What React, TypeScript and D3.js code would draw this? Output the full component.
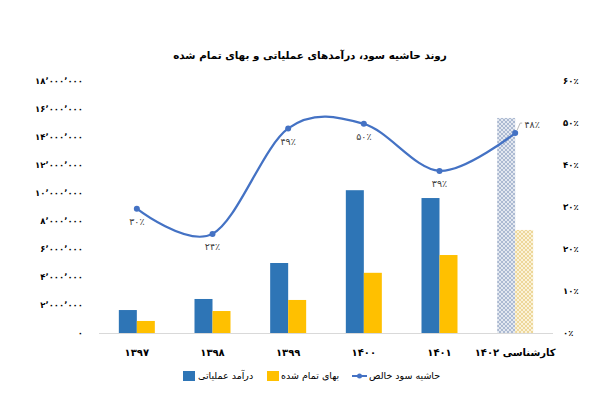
import * as d3 from 'd3'
import * as React from 'react'

//------------------------------data------------------------------
const categories = ['۱۳۹۷', '۱۳۹۸', '۱۳۹۹', '۱۴۰۰', '۱۴۰۱', 'کارشناسی ۱۴۰۲']
const revenue = [1640000, 2430000, 5000000, 10200000, 9640000, 15360000]
const cost = [860000, 1570000, 2360000, 4300000, 5570000, 7360000]
const margin = [29.6, 23.6, 48.7, 49.8, 38.6, 47.6]
const leftTicks = [0, 2000000, 4000000, 6000000, 8000000, 10000000, 12000000, 14000000, 16000000, 18000000]
const rightTicks = [0, 10, 20, 30, 40, 50, 60]
const seriesNames = ['درآمد عملیاتی', 'بهای تمام شده', 'حاشیه سود خالص']
const title = 'روند حاشیه سود، درآمدهای عملیاتی و بهای تمام شده'

const WIDTH = 611
const HEIGHT = 411
const FONT = '"DejaVu Sans", sans-serif'
const BLUE = '#2E75B6'
const YELLOW = '#FFC000'
const LINE = '#4472C4'

const faDigits = '۰۱۲۳۴۵۶۷۸۹'
const toFa = (s: string) => s.replace(/[0-9]/g, d => faDigits[+d]).replace(/,/g, '٬')

//------------------------------draw------------------------------
const drawChart = (svgRef: React.RefObject<SVGSVGElement | null>) => {
  const svg = d3.select(svgRef.current)
  svg.selectAll('*').remove()
  svg.attr('width', WIDTH).attr('height', HEIGHT)

  svg.append('rect').attr('width', WIDTH).attr('height', HEIGHT).attr('fill', '#fff')

  // hatch patterns for the forecast year
  const defs = svg.append('defs')
  const hatch = (id: string, bg: string, fg: string) => {
    const p = defs
      .append('pattern')
      .attr('id', id)
      .attr('patternUnits', 'userSpaceOnUse')
      .attr('width', 4)
      .attr('height', 4)
    p.append('rect').attr('width', 4).attr('height', 4).attr('fill', bg)
    p.append('path')
      .attr('d', 'M0,4 L4,0 M-1,1 L1,-1 M3,5 L5,3 M0,0 L4,4 M-1,3 L1,5 M3,-1 L5,1')
      .attr('stroke', fg)
      .attr('stroke-width', 0.7)
  }
  hatch('hatch-blue', '#E3E8F0', '#93A6C6')
  hatch('hatch-yellow', '#FBF2D8', '#E6CC80')

  const x0 = d3.scaleBand<string>().domain(categories).range([99, 553]).padding(0)
  const yL = d3.scaleLinear().domain([0, 18000000]).range([333, 81])
  const yR = d3.scaleLinear().domain([0, 60]).range([333, 81])
  const center = (c: string) => (x0(c) ?? 0) + x0.bandwidth() / 2

  // title
  svg
    .append('text')
    .attr('x', 310)
    .attr('y', 59)
    .attr('text-anchor', 'middle')
    .attr('direction', 'rtl')
    .style('font', `bold 10.4px ${FONT}`)
    .attr('fill', '#000')
    .text(title)

  // left axis labels
  svg
    .append('g')
    .selectAll('text')
    .data(leftTicks)
    .join('text')
    .attr('x', 83)
    .attr('y', d => yL(d))
    .attr('dy', '0.35em')
    .attr('text-anchor', 'end')
    .style('font', `bold 8.5px ${FONT}`)
    .attr('fill', '#000')
    .text(d => toFa(d3.format(',')(d)))

  // right axis labels
  svg
    .append('g')
    .selectAll('text')
    .data(rightTicks)
    .join('text')
    .attr('x', 563)
    .attr('y', d => yR(d))
    .attr('dy', '0.35em')
    .attr('text-anchor', 'start')
    .style('font', `bold 8.5px ${FONT}`)
    .attr('fill', '#000')
    .text(d => toFa(String(d)) + '٪')

  // bars
  const last = categories.length - 1
  categories.forEach((c, i) => {
    const x1 = d3
      .scaleBand<string>()
      .domain(['rev', 'cost'])
      .range([center(c) - 18, center(c) + 18])
    svg
      .append('rect')
      .attr('x', x1('rev') ?? 0)
      .attr('y', yL(revenue[i]))
      .attr('width', x1.bandwidth())
      .attr('height', yL(0) - yL(revenue[i]))
      .attr('fill', i === last ? 'url(#hatch-blue)' : BLUE)
    svg
      .append('rect')
      .attr('x', x1('cost') ?? 0)
      .attr('y', yL(cost[i]))
      .attr('width', x1.bandwidth())
      .attr('height', yL(0) - yL(cost[i]))
      .attr('fill', i === last ? 'url(#hatch-yellow)' : YELLOW)
  })

  // baseline
  svg
    .append('line')
    .attr('x1', 99)
    .attr('x2', 553)
    .attr('y1', yL(0) + 0.5)
    .attr('y2', yL(0) + 0.5)
    .attr('stroke', '#D9D9D9')
    .attr('stroke-width', 1)

  // category labels
  svg
    .append('g')
    .selectAll('text')
    .data(categories)
    .join('text')
    .attr('x', d => center(d))
    .attr('y', 356)
    .attr('text-anchor', 'middle')
    .attr('direction', 'rtl')
    .style('font', `bold 10px ${FONT}`)
    .attr('fill', '#000')
    .text(d => d)

  // margin line
  const pts: [number, number][] = categories.map((c, i) => [center(c), yR(margin[i])])
  const line = d3.line().curve(d3.curveCardinal.tension(0))
  svg
    .append('path')
    .attr('d', line(pts))
    .attr('fill', 'none')
    .attr('stroke', LINE)
    .attr('stroke-width', 2.25)
  svg
    .append('g')
    .selectAll('circle')
    .data(pts)
    .join('circle')
    .attr('cx', d => d[0])
    .attr('cy', d => d[1])
    .attr('r', 3)
    .attr('fill', LINE)

  // data labels
  pts.forEach((p, i) => {
    const isLast = i === last
    const lx = isLast ? p[0] + 17 : p[0]
    const ly = isLast ? p[1] - 8 : p[1] + 13
    if (isLast) {
      svg
        .append('path')
        .attr('d', `M${p[0] + 2},${p[1] - 3} L${p[0] + 5},${p[1] - 10} L${p[0] + 7},${p[1] - 10}`)
        .attr('fill', 'none')
        .attr('stroke', '#A6A6A6')
        .attr('stroke-width', 0.8)
    }
    svg
      .append('text')
      .attr('x', lx)
      .attr('y', ly)
      .attr('dy', '0.35em')
      .attr('text-anchor', 'middle')
      .style('font', `9.5px ${FONT}`)
      .attr('fill', '#404040')
      .text(toFa(String(Math.round(margin[i]))) + '٪')
  })

  // legend
  const lg = svg.append('g')
  const legendY = 376
  lg.append('rect').attr('x', 183).attr('y', legendY - 5).attr('width', 12).attr('height', 10).attr('fill', BLUE)
  lg.append('text')
    .attr('x', 198)
    .attr('y', legendY)
    .attr('dy', '0.35em')
    .attr('text-anchor', 'start')
    .style('font', `9.5px ${FONT}`)
    .attr('fill', '#000')
    .text(seriesNames[0])
  lg.append('rect').attr('x', 267).attr('y', legendY - 5).attr('width', 12).attr('height', 10).attr('fill', YELLOW)
  lg.append('text')
    .attr('x', 281)
    .attr('y', legendY)
    .attr('dy', '0.35em')
    .attr('text-anchor', 'start')
    .style('font', `9.5px ${FONT}`)
    .attr('fill', '#000')
    .text(seriesNames[1])
  lg.append('line')
    .attr('x1', 352)
    .attr('x2', 367)
    .attr('y1', legendY)
    .attr('y2', legendY)
    .attr('stroke', LINE)
    .attr('stroke-width', 2)
  lg.append('circle').attr('cx', 359.5).attr('cy', legendY).attr('r', 2.5).attr('fill', LINE)
  lg.append('text')
    .attr('x', 369)
    .attr('y', legendY)
    .attr('dy', '0.35em')
    .attr('text-anchor', 'start')
    .style('font', `9.5px ${FONT}`)
    .attr('fill', '#000')
    .text(seriesNames[2])
}

//------------------------------Component------------------------------
export default function App() {
  const chartSvg = React.useRef<SVGSVGElement>(null)

  React.useEffect(() => {
    drawChart(chartSvg)
  }, [])

  return (
    <svg
      ref={chartSvg}
      style={{ position: 'absolute', left: 0, top: 0, display: 'block' }}
    />
  )
}
